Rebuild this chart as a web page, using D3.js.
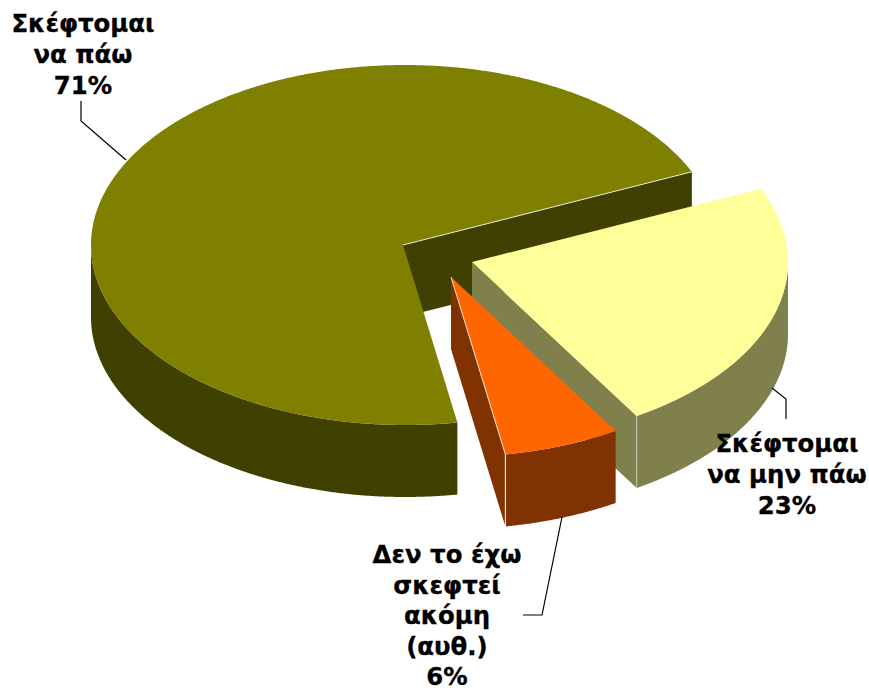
<!DOCTYPE html>
<html lang="en">
<head>
  <meta charset="UTF-8">
  <title>Σκέφτομαι να πάω</title>
  <style>
    html, body { margin: 0; padding: 0; background: #fff; }
    svg { display: block; }
    .label { font-family: "DejaVu Sans", sans-serif; font-weight: bold; font-size: 24.4px; fill: #000; stroke: #000; stroke-width: 0.3; text-anchor: middle; }
    .leader { fill: none; stroke: #000; stroke-width: 1.2; }
  </style>
</head>
<body>
  <script src="https://d3js.org/d3.v7.min.js"></script>
  <script>
    // chart data, clockwise from the first slice
    const categories = ['Σκέφτομαι να μην πάω', 'Δεν το έχω σκεφτεί ακόμη (αυθ.)', 'Σκέφτομαι να πάω'];
    const shares = [23, 6, 71];
    const labelLines = [
      ['Σκέφτομαι', 'να μην πάω', '23%'],
      ['Δεν το έχω', 'σκεφτεί', 'ακόμη', '(αυθ.)', '6%'],
      ['Σκέφτομαι', 'να πάω', '71%']
    ];
    const topColors = ['#ffff99', '#ff6600', '#808000'];
    const sideColors = ['#80804d', '#803300', '#404000'];
    const seamColors = ['#c8c8b0', '#ffffff', '#ffffff'];

    const SVGWIDTH = 869;
    const SVGHEIGHT = 691;
    const ry = 180, depth = 72;
    const center = [403, 245];
    const firstAngle = 66 * Math.PI / 180;

    // how far each slice is pulled out of the pie
    const explode = [[69, 17], [48, 32], [0, 0]];
    const labelPos = [[787, 452], [447, 563], [83, 32]];
    const lineGap = [31, 30.5, 31];
    const leaders = [
      [[786, 419], [786, 399], [772, 388]],
      [[523, 615], [542, 615], [562, 517]],
      [[81, 101], [81, 121], [126, 160]]
    ];
    // the olive slice sits behind the two pulled out ones
    const drawOrder = [2, 0, 1];

    const svg = d3.select('body').append('svg')
      .attr('width', SVGWIDTH)
      .attr('height', SVGHEIGHT);

    const pie = d3.pie().sort(null)
      .startAngle(firstAngle)
      .endAngle(firstAngle + 2 * Math.PI);
    const arcs = pie(shares);

    // flatten the circle: angle is clockwise from the top
    // the rim is slightly off centre from the apex, like the 3D perspective in the picture
    const scaleX = d3.scaleLinear().domain([-1, 1]).range([-312, 316]);
    const scaleY = d3.scaleLinear().domain([-1, 1]).range([-ry, ry]);
    const rimX = a => scaleX(Math.sin(a));
    const rimY = a => scaleY(-Math.cos(a));

    const line = d3.line();
    const rimArea = d3.area().x(rimX).y0(rimY).y1(a => rimY(a) + depth);

    function angles (from, to) {
      return d3.range(from, to, 0.005).concat([to]);
    }

    drawOrder.forEach(i => {
      const d = arcs[i];
      const g = svg.append('g')
        .attr('class', 'slice')
        .attr('data-category', categories[i])
        .attr('transform', `translate(${center[0] + explode[i][0]},${center[1] + explode[i][1]})`);

      // every slice shows one cut face, the one at the end of its sweep
      const cx = rimX(d.endAngle), cy = rimY(d.endAngle);
      g.append('path')
        .attr('d', line([[0, 0], [cx, cy], [cx, cy + depth], [0, depth]]) + 'Z')
        .attr('fill', sideColors[i]);

      // the part of the rim that faces the viewer
      const rimFrom = Math.max(d.startAngle, Math.PI / 2);
      const rimTo = Math.min(d.endAngle, 3 * Math.PI / 2);
      g.append('path')
        .attr('d', rimArea(angles(rimFrom, rimTo)))
        .attr('fill', sideColors[i]);

      // top face
      const rimPoints = angles(d.startAngle, d.endAngle).map(a => [rimX(a), rimY(a)]);
      g.append('path')
        .attr('d', line([[0, 0]].concat(rimPoints)) + 'Z')
        .attr('fill', topColors[i]);

      // thin light seams along the near edges
      if (i < 2) {
        g.append('path')
          .attr('d', line([[cx, cy], [cx, cy + depth]]))
          .attr('stroke', seamColors[i])
          .attr('stroke-width', 1);
      }
      if (i > 0) {
        g.append('path')
          .attr('d', line([[0, 0], [cx, cy]]))
          .attr('stroke', seamColors[i])
          .attr('stroke-width', 0.8);
      }
    });

    svg.selectAll('.leader')
      .data(leaders)
      .enter()
      .append('path')
      .attr('class', 'leader')
      .attr('d', d => line(d));

    labelLines.forEach((lines, i) => {
      const text = svg.append('text')
        .attr('class', 'label')
        .attr('x', labelPos[i][0])
        .attr('y', labelPos[i][1]);
      lines.forEach((t, j) => {
        text.append('tspan')
          .attr('x', labelPos[i][0])
          .attr('dy', j === 0 ? 0 : lineGap[i])
          .text(t);
      });
    });
  </script>
</body>
</html>
